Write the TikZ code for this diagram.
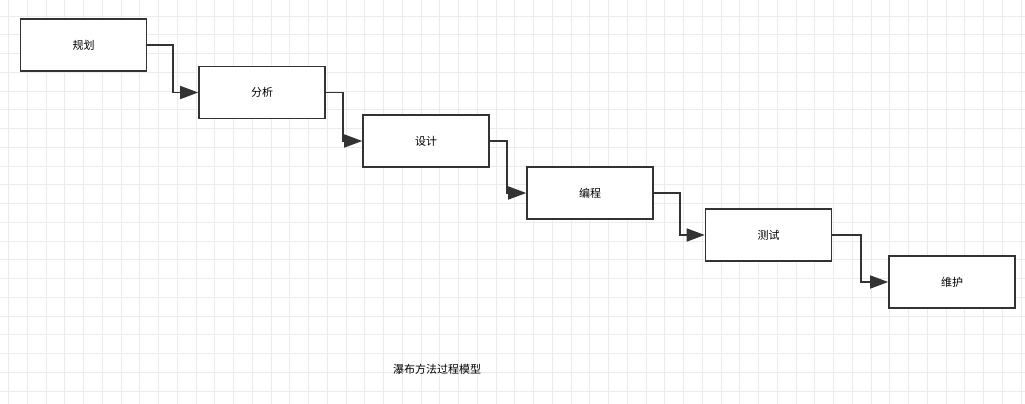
\documentclass[tikz,border=0pt]{standalone}
\usepackage{fontspec}
\newfontfamily\cjk{Noto Sans CJK SC}
\usetikzlibrary{arrows.meta}
\begin{document}
\begin{tikzpicture}[x=1pt,y=-1pt,
  box/.style={draw=black!80,line width=1.6pt,fill=white,minimum width=126pt,minimum height=52pt,inner sep=0pt,font=\cjk\fontsize{11}{13}\selectfont},
  conn/.style={draw=black!80,line width=1.6pt,-{Triangle[length=18pt,width=13pt]}}]
\useasboundingbox (0,0) rectangle (1025,404);
\fill[white] (0,0) rectangle (1025,404);
\foreach \i in {0,...,55} {
  \draw[black!8,line width=0.6pt] ({8.5+18.75*\i},0) -- ({8.5+18.75*\i},404);
}
\foreach \j in {0,...,21} {
  \draw[black!8,line width=0.6pt] (0,{16+18.75*\j}) -- (1025,{16+18.75*\j});
}
\node[box] (a) at (83.5,45) {规划};
\node[box] (b) at (262,92.5) {分析};
\node[box] (c) at (426,141) {设计};
\node[box] (d) at (590,193) {编程};
\node[box] (e) at (768.5,235) {测试};
\node[box] (f) at (952,282) {维护};
\coordinate (t1) at (173,0);
\coordinate (t2) at (343,0);
\coordinate (t3) at (507,0);
\coordinate (t4) at (680,0);
\coordinate (t5) at (861,0);
\draw[conn] (a.east) -| (t1 |- b.west) -- (b.west);
\draw[conn] (b.east) -| (t2 |- c.west) -- (c.west);
\draw[conn] (c.east) -| (t3 |- d.west) -- (d.west);
\draw[conn] (d.east) -| (t4 |- e.west) -- (e.west);
\draw[conn] (e.east) -| (t5 |- f.west) -- (f.west);
\node[font=\cjk\fontsize{11}{13}\selectfont] (cap) at (437,369) {瀑布方法过程模型};
\end{tikzpicture}
\end{document}
